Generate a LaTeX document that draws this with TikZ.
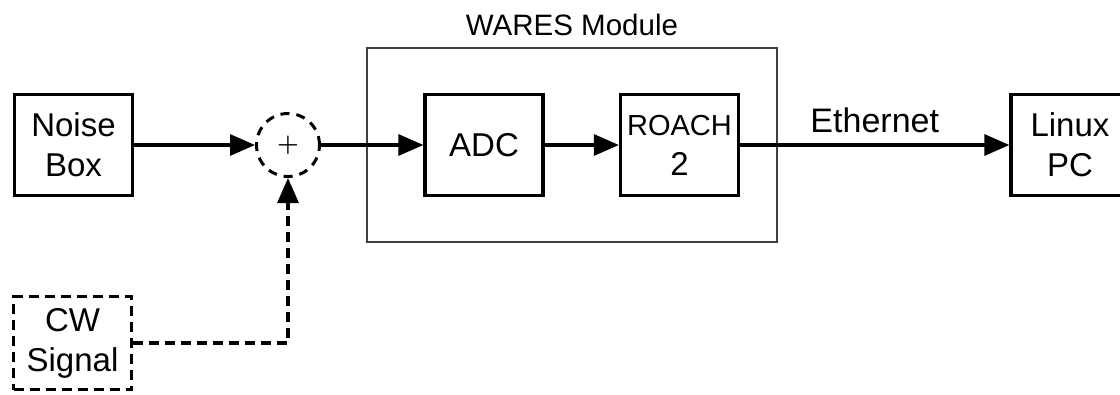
\documentclass[tikz,border=0pt]{standalone}
\usepackage{fontspec}
\setmainfont{Liberation Sans}
\usetikzlibrary{arrows.meta}
\begin{document}
\begin{tikzpicture}[x=1pt,y=-1pt,
  blk/.style={draw, line width=3.2pt, minimum width=118pt, minimum height=101pt,
    align=center, font=\fontsize{33}{40}\selectfont, inner sep=0pt},
  dsh/.style={dash pattern=on 10pt off 6pt},
  arr/.style={line width=3.1pt, -{Triangle[length=25pt,width=21pt]}},
]
\useasboundingbox (0,0) rectangle (1120,394);
% module container
\node[draw=black!75, line width=1.3pt, minimum width=410pt, minimum height=194pt, inner sep=0pt] (mod) at (572,145) {};
\node[anchor=base, font=\fontsize{29.5}{32}\selectfont] (modlabel) at (572,35) {WARES Module};
% blocks
\node[blk] (noise) at (73.5,145) {Noise\\Box};
\node[blk, dsh, minimum height=93pt] (cw) at (72.5,343) {CW\\Signal};
\node[draw, circle, line width=3pt, dash pattern=on 9pt off 7pt, minimum size=63pt, inner sep=0pt,
  font=\boldmath\fontsize{34}{34}\selectfont] (sum) at (288,145) {$+$};
\node[blk] (adc) at (484,145) {ADC};
\node[blk] (roach) at (679.5,145) {{\fontsize{29}{40}\selectfont ROACH}\\2};
\node[blk] (pc) at (1070,145) {Linux\\PC};
% connectors
\draw[arr] (noise.east) -- (sum.west);
\draw[arr] (sum.east) -- (adc.west);
\draw[arr] (adc.east) -- (roach.west);
\draw[arr] (roach.east) -- node[midway, anchor=base, yshift=13pt, font=\fontsize{34}{40}\selectfont] (eth) {Ethernet} (pc.west);
\draw[arr, dsh] (cw.east) -| (sum.south);
\end{tikzpicture}
\end{document}
